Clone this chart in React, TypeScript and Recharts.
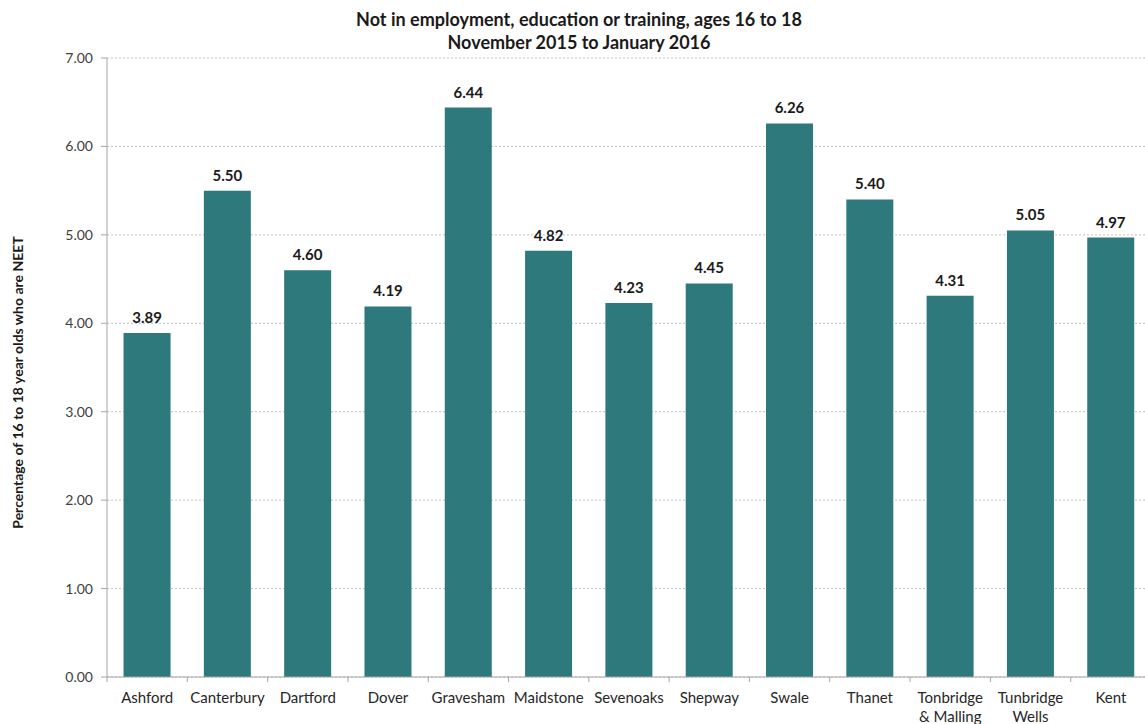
import React from "react";
import { BarChart, Bar, XAxis, YAxis, CartesianGrid, LabelList, Label } from "recharts";

const categories = ["Ashford", "Canterbury", "Dartford", "Dover", "Gravesham", "Maidstone", "Sevenoaks", "Shepway", "Swale", "Thanet", "Tonbridge & Malling", "Tunbridge Wells", "Kent"];
const tickLines = [["Ashford"], ["Canterbury"], ["Dartford"], ["Dover"], ["Gravesham"], ["Maidstone"], ["Sevenoaks"], ["Shepway"], ["Swale"], ["Thanet"], ["Tonbridge", "& Malling"], ["Tunbridge", "Wells"], ["Kent"]];
const neetValues = [3.89, 5.5, 4.6, 4.19, 6.44, 4.82, 4.23, 4.45, 6.26, 5.4, 4.31, 5.05, 4.97];
const yTicks = [0, 1, 2, 3, 4, 5, 6, 7];
const titleLines = ["Not in employment, education or training, ages 16 to 18", "November 2015 to January 2016"];
const yTitle = "Percentage of 16 to 18 year olds who are NEET";

const data = categories.map((c, i) => ({ name: c, value: neetValues[i] }));

const FONT = "Lato, 'DejaVu Sans', sans-serif";

const XTick = (props: any) => {
  const { x, y, payload, index } = props;
  const lines = tickLines[index] || [payload.value];
  const half = payload && payload.offset ? payload.offset : 40;
  return (
    <g>
      <line x1={x - half} x2={x - half} y1={y - 8} y2={y - 3} stroke="#a6a6a6" strokeWidth={1} />
      <text x={x} y={y} textAnchor="middle" fontFamily={FONT} fontSize={15} fill="#262626">
        {lines.map((l: string, i: number) => (
          <tspan key={i} x={x} dy={i === 0 ? 18 : 19}>{l}</tspan>
        ))}
      </text>
    </g>
  );
};

export default function App() {
  return (
    <div style={{ position: "absolute", left: 0, top: 0, width: 1145, height: 724, overflow: "hidden", background: "#fff" }}>
      <div style={{ position: "absolute", left: 0, top: 8, width: 1158, textAlign: "center", fontFamily: FONT, fontWeight: 700, fontSize: 18, lineHeight: "23px", color: "#1a1a1a" }}>
        {titleLines.map((t, i) => (
          <div key={i}>{t}</div>
        ))}
      </div>
      <BarChart width={1151} height={724} data={data} margin={{ top: 58, right: 0, bottom: 0, left: 0 }} barCategoryGap="20.6%">
        <CartesianGrid vertical={false} stroke="#bfbfbf" strokeDasharray="2 2" />
        <XAxis dataKey="name" interval={0} height={47} tickLine={false} axisLine={{ stroke: "#a6a6a6" }} tick={<XTick />} />
        <YAxis
          domain={[0, 7]}
          ticks={yTicks}
          width={107}
          tickFormatter={(v: number) => v.toFixed(2)}
          tick={{ fontFamily: FONT, fontSize: 14, fill: "#404040" }}
          tickSize={6}
          tickMargin={8}
          tickLine={{ stroke: "#a6a6a6" }}
          axisLine={{ stroke: "#a6a6a6" }}
        >
          <Label
            content={(p: any) => {
              const vb = p.viewBox || {};
              const cx = 17;
              const cy = (vb.y || 58) + (vb.height || 619) / 2 + 15;
              return (
                <text x={cx} y={cy} transform={`rotate(-90 ${cx} ${cy})`} textAnchor="middle" dominantBaseline="central" fontFamily={FONT} fontWeight={700} fontSize={14} fill="#1a1a1a">
                  {yTitle}
                </text>
              );
            }}
          />
        </YAxis>
        <Bar dataKey="value" fill="#2e797b" isAnimationActive={false}>
          <LabelList dataKey="value" position="top" offset={10} formatter={(v: number) => v.toFixed(2)} style={{ fontFamily: FONT, fontWeight: 700, fontSize: 15, fill: "#1a1a1a" }} />
        </Bar>
      </BarChart>
    </div>
  );
}
